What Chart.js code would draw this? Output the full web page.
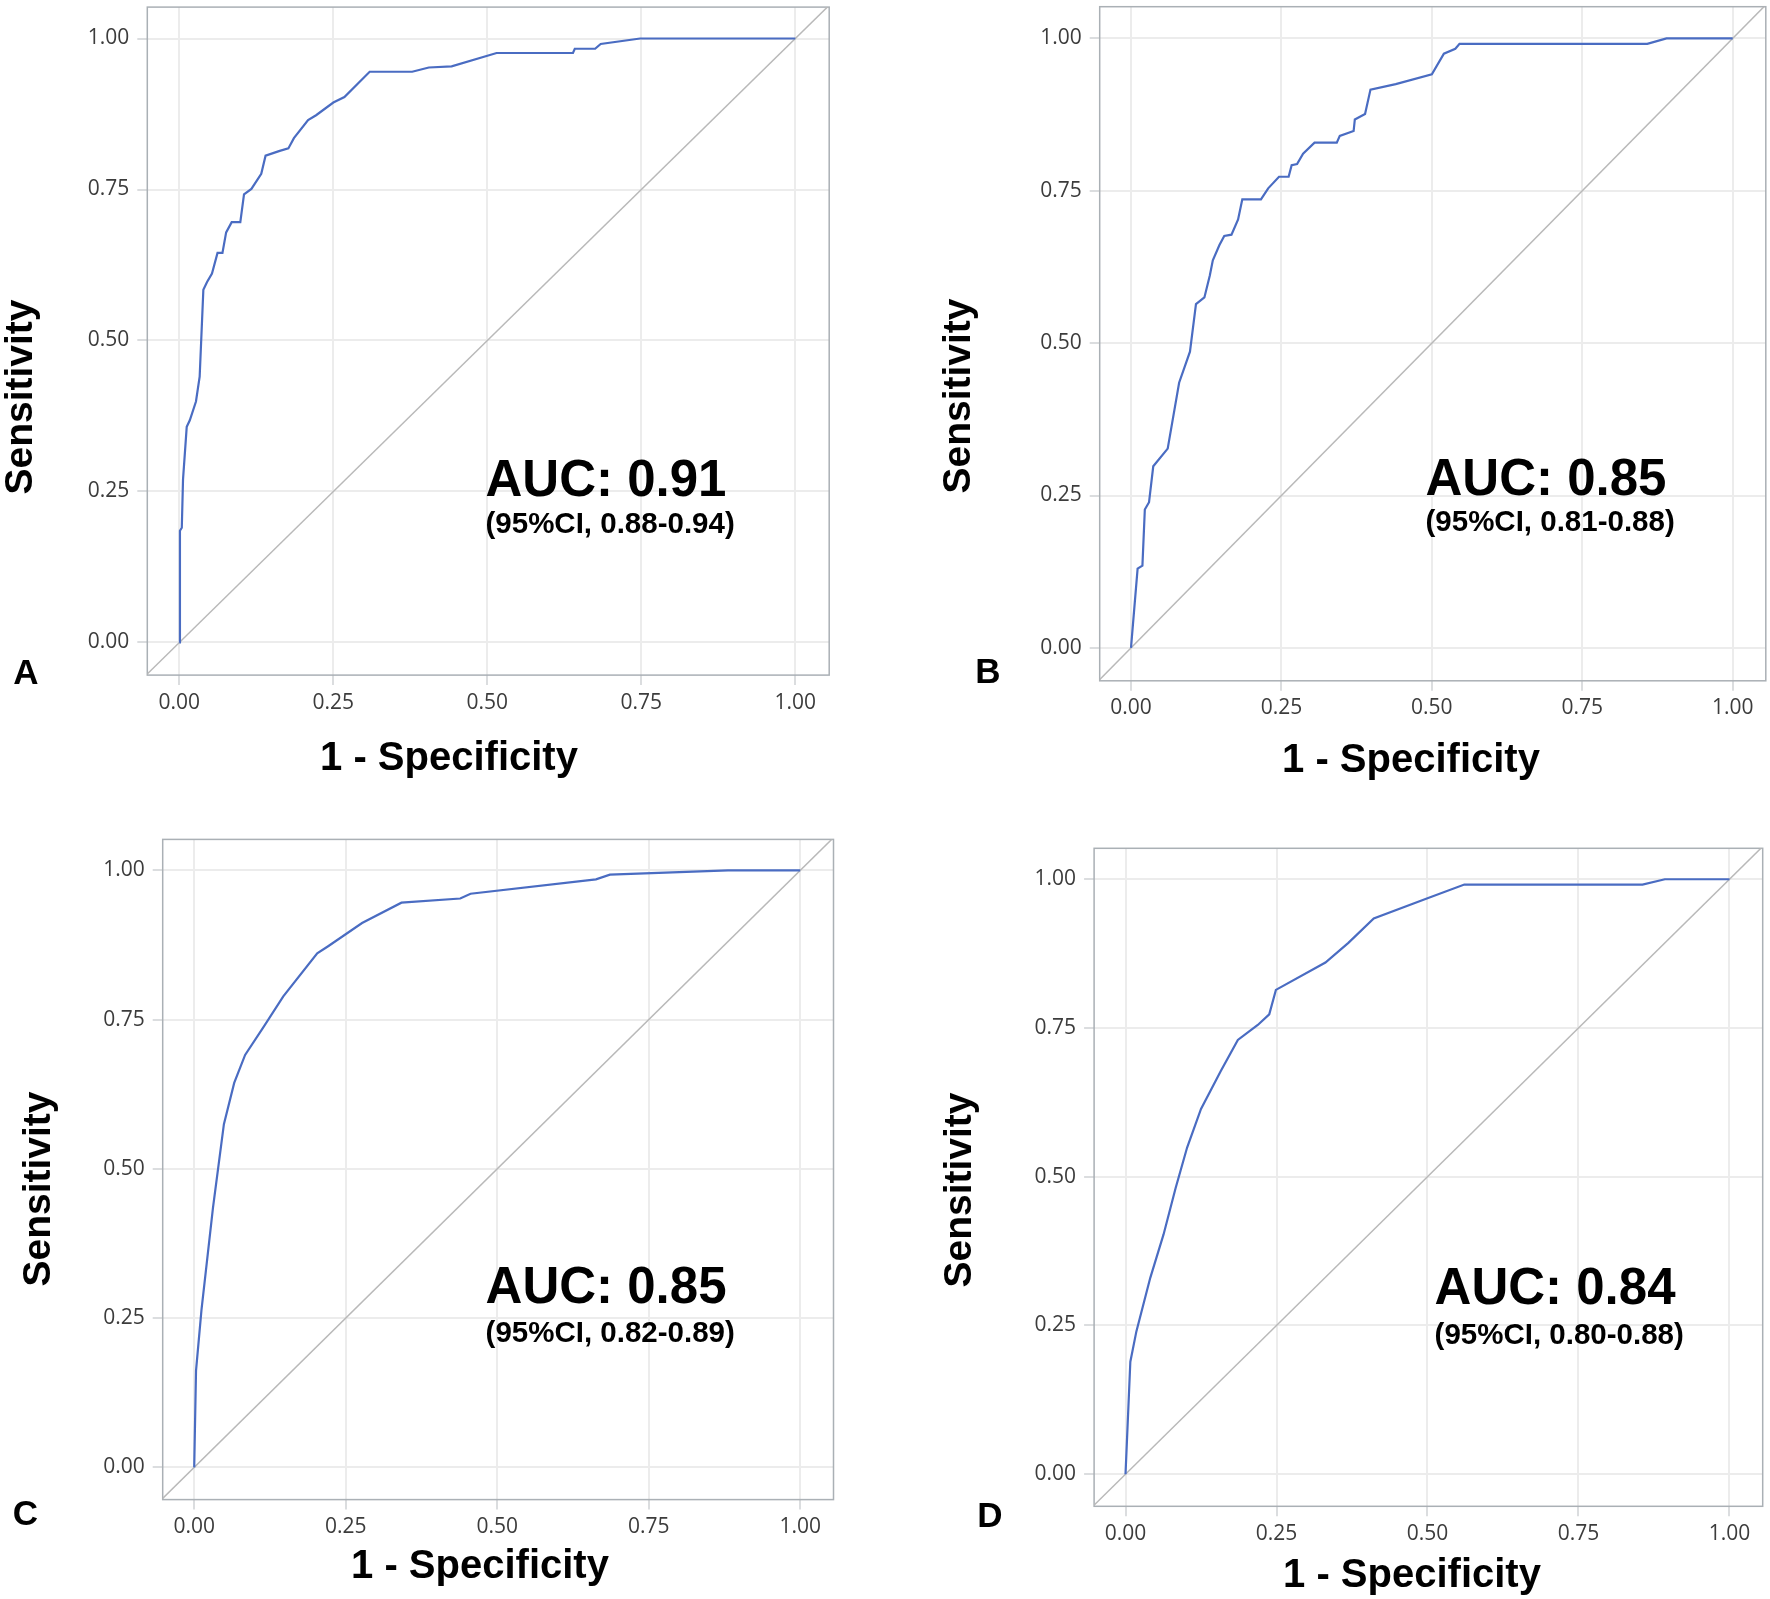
<!DOCTYPE html>
<html>
<head>
<meta charset="utf-8">
<script src="https://cdn.jsdelivr.net/npm/chart.js@4.4.1/dist/chart.umd.min.js"></script>
<style>
  html, body { margin: 0; padding: 0; background: #fff; }
  #page { position: relative; width: 1770px; height: 1599px; overflow: hidden; background: #fff; }
  .panel { position: absolute; }
</style>
</head>
<body>
<div id="page">
  <div class="panel" style="left:0px;top:0px;width:885px;height:800px"><canvas id="rocA"></canvas></div>
  <div class="panel" style="left:885px;top:0px;width:885px;height:800px"><canvas id="rocB"></canvas></div>
  <div class="panel" style="left:0px;top:800px;width:885px;height:799px"><canvas id="rocC"></canvas></div>
  <div class="panel" style="left:885px;top:800px;width:885px;height:799px"><canvas id="rocD"></canvas></div>
</div>
<script>
// ---- data ----
const tickValues = [0, 0.25, 0.5, 0.75, 1];
const panelLetters = ['A', 'B', 'C', 'D'];
const aucValues = ['0.91', '0.85', '0.85', '0.84'];
const ciRanges = ['0.88-0.94', '0.81-0.88', '0.82-0.89', '0.80-0.88'];

// reference (chance) line
const refX = [-0.06, 1.06];
const refY = [-0.06, 1.06];

// A
const fprA = [0, 0.001, 0.004, 0.006, 0.012, 0.017, 0.027, 0.033, 0.039, 0.045, 0.053, 0.062, 0.070, 0.076, 0.085, 0.099,
  0.105, 0.117, 0.133, 0.140, 0.163, 0.177, 0.186, 0.209, 0.222, 0.250, 0.268, 0.309, 0.378, 0.405, 0.442, 0.515,
  0.639, 0.642, 0.675, 0.684, 0.748, 1];
const tprA = [0, 0.185, 0.190, 0.270, 0.357, 0.368, 0.399, 0.440, 0.584, 0.597, 0.611, 0.645, 0.645, 0.679, 0.696, 0.696,
  0.742, 0.751, 0.776, 0.806, 0.814, 0.818, 0.835, 0.865, 0.873, 0.894, 0.903, 0.945, 0.945, 0.952, 0.954, 0.976,
  0.976, 0.983, 0.983, 0.991, 1.0, 1];

// B
const fprB = [0, 0.011, 0.019, 0.023, 0.030, 0.037, 0.061, 0.080, 0.098, 0.108, 0.122, 0.131, 0.136, 0.147, 0.155, 0.167,
  0.178, 0.185, 0.216, 0.228, 0.246, 0.262, 0.267, 0.276, 0.286, 0.305, 0.342, 0.347, 0.370, 0.372, 0.389, 0.398,
  0.440, 0.500, 0.520, 0.539, 0.546, 0.858, 0.890, 1];
const tprB = [0, 0.130, 0.135, 0.227, 0.239, 0.298, 0.327, 0.435, 0.486, 0.564, 0.575, 0.611, 0.636, 0.661, 0.676, 0.678,
  0.703, 0.736, 0.736, 0.754, 0.773, 0.773, 0.792, 0.794, 0.811, 0.829, 0.829, 0.840, 0.848, 0.867, 0.876, 0.916,
  0.925, 0.941, 0.975, 0.983, 0.991, 0.991, 1.0, 1];

// C
const fprC = [0, 0.003, 0.012, 0.031, 0.049, 0.066, 0.084, 0.114, 0.147, 0.203, 0.221, 0.277, 0.342, 0.439, 0.456, 0.663, 0.686, 0.881, 1];
const tprC = [0, 0.162, 0.264, 0.435, 0.575, 0.644, 0.691, 0.737, 0.789, 0.861, 0.873, 0.912, 0.946, 0.953, 0.961, 0.985, 0.993, 1.0, 1];

// D
const fprD = [0, 0.008, 0.018, 0.041, 0.063, 0.083, 0.102, 0.125, 0.158, 0.186, 0.219, 0.238, 0.249, 0.331, 0.369, 0.411, 0.500, 0.561, 0.856, 0.893, 1];
const tprD = [0, 0.189, 0.240, 0.330, 0.403, 0.481, 0.549, 0.614, 0.678, 0.730, 0.755, 0.773, 0.814, 0.860, 0.893, 0.934, 0.968, 0.991, 0.991, 1.0, 1];

// ---- layout (page pixels) ----
const xRange = [-0.052, 1.055];
const yRange = [-0.054, 1.052];
const Y_AXIS_W = 80;
const X_AXIS_H = 60;

const panels = [
  { id: 'rocA', box: [0, 0, 885, 800], area: [147.3, 7.1, 829.2, 675.1],
    yTitle: [21, 397], xTitle: [449, 758.5], letter: [26, 674], auc: [485.5, 478], ci: 524, fpr: fprA, tpr: tprA },
  { id: 'rocB', box: [885, 0, 885, 800], area: [1099.7, 6.7, 1765.8, 680.8],
    yTitle: [959.7, 396], xTitle: [1411, 761], letter: [988, 673], auc: [1425.5, 477], ci: 522, fpr: fprB, tpr: tprB },
  { id: 'rocC', box: [0, 800, 885, 799], area: [162.7, 839.4, 833.5, 1499.6],
    yTitle: [39.4, 1189], xTitle: [480, 1567], letter: [25.4, 1515], auc: [485.6, 1284.5], ci: 1333, fpr: fprC, tpr: tprC },
  { id: 'rocD', box: [885, 800, 885, 799], area: [1094.1, 848.3, 1762.7, 1506.3],
    yTitle: [960, 1190], xTitle: [1412, 1576], letter: [990, 1517.5], auc: [1434.6, 1286], ci: 1335, fpr: fprD, tpr: tprD }
];

const BOLD = '"Liberation Sans", Arial, Helvetica, sans-serif';
const tickFont = { family: '"Open Sans", "Noto Sans", sans-serif', size: 21 };

// frame around the plot area
const framePlugin = {
  id: 'frame',
  beforeDatasetsDraw(chart) {
    const { ctx, chartArea: a } = chart;
    ctx.save();
    ctx.strokeStyle = '#aab0b5';
    ctx.lineWidth = 1.5;
    ctx.strokeRect(a.left, a.top, a.right - a.left, a.bottom - a.top);
    ctx.restore();
  }
};

// axis titles, AUC annotation and panel letter
const textPlugin = {
  id: 'rocText',
  afterDraw(chart, args, o) {
    const ctx = chart.ctx;
    const bx = o.box[0], by = o.box[1];
    ctx.save();
    ctx.fillStyle = '#000';
    ctx.textBaseline = 'middle';

    ctx.textAlign = 'center';
    ctx.font = 'bold 35px ' + BOLD;
    ctx.fillText(o.letter, o.letterPos[0] - bx, o.letterPos[1] - by);

    ctx.font = 'bold 40px ' + BOLD;
    ctx.fillText('1 - Specificity', o.xTitle[0] - bx, o.xTitle[1] - by);

    ctx.save();
    ctx.translate(o.yTitle[0] - bx, o.yTitle[1] - by);
    ctx.rotate(-Math.PI / 2);
    ctx.font = 'bold 39px ' + BOLD;
    ctx.fillText('Sensitivity', 0, 0);
    ctx.restore();

    ctx.textAlign = 'left';
    ctx.textBaseline = 'alphabetic';
    ctx.font = 'bold 51px ' + BOLD;
    ctx.fillText('AUC: ' + o.auc, o.aucPos[0] - bx, o.aucPos[1] - by + 0.358 * 51);
    ctx.font = 'bold 29.5px ' + BOLD;
    ctx.fillText('(95%CI, ' + o.ci + ')', o.aucPos[0] - bx, o.ciY - by + 0.3 * 29.5);
    ctx.restore();
  }
};

function makeRoc(p, i) {
  const [bx, by, bw, bh] = p.box;
  const [L, T, R, B] = p.area;
  const rocPoints = p.fpr.map((x, k) => ({ x: x, y: p.tpr[k] }));
  const refPoints = refX.map((x, k) => ({ x: x, y: refY[k] }));

  const axisCommon = {
    type: 'linear',
    afterBuildTicks: s => { s.ticks = tickValues.map(v => ({ value: v })); },
    grid: { color: '#ececec', lineWidth: 2, drawTicks: true, tickLength: 10, tickColor: '#cfd2d5', tickWidth: 1.5 },
    border: { display: false }
  };

  new Chart(document.getElementById(p.id), {
    type: 'scatter',
    data: {
      datasets: [
        { label: 'ROC', data: rocPoints, showLine: true, borderColor: '#4a6cc2', borderWidth: 2.2,
          pointRadius: 0, tension: 0, fill: false },
        { label: 'Reference', data: refPoints, showLine: true, borderColor: '#b9b9b9', borderWidth: 1.5,
          pointRadius: 0, tension: 0, fill: false }
      ]
    },
    options: {
      responsive: true,
      maintainAspectRatio: false,
      animation: false,
      devicePixelRatio: 1,
      layout: {
        padding: { left: L - bx - Y_AXIS_W, top: T - by, right: bx + bw - R, bottom: by + bh - B - X_AXIS_H }
      },
      plugins: {
        legend: { display: false },
        tooltip: { enabled: false },
        rocText: { box: p.box, letter: panelLetters[i], letterPos: p.letter, xTitle: p.xTitle, yTitle: p.yTitle,
                   auc: aucValues[i], ci: ciRanges[i], aucPos: p.auc, ciY: p.ci }
      },
      scales: {
        x: Object.assign({}, axisCommon, {
          position: 'bottom', min: xRange[0], max: xRange[1],
          ticks: { callback: v => Number(v).toFixed(2), font: tickFont, color: '#3c3c3c', padding: 5, maxRotation: 0, autoSkip: false },
          afterFit: s => { s.height = X_AXIS_H; s.paddingLeft = 0; s.paddingRight = 0; }
        }),
        y: Object.assign({}, axisCommon, {
          position: 'left', min: yRange[0], max: yRange[1],
          ticks: { callback: v => Number(v).toFixed(2), font: tickFont, color: '#3c3c3c', padding: 8, autoSkip: false },
          afterFit: s => { s.width = Y_AXIS_W; s.paddingTop = 0; s.paddingBottom = 0; }
        })
      }
    },
    plugins: [framePlugin, textPlugin]
  });
}

panels.forEach(makeRoc);
</script>
</body>
</html>
